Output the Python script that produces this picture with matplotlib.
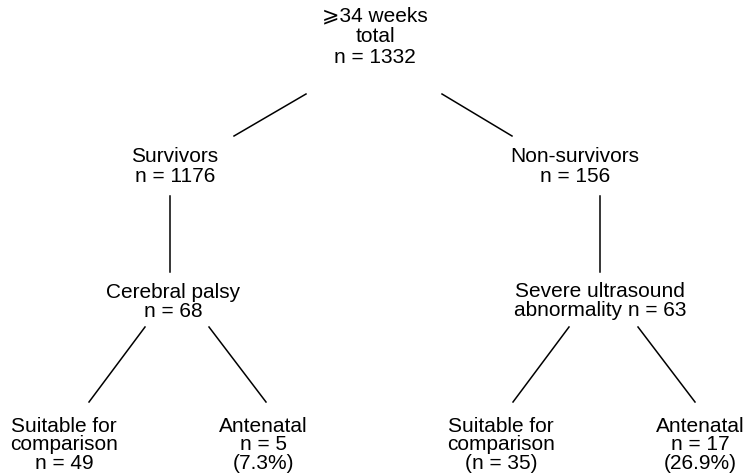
import matplotlib
matplotlib.use("Agg")
import matplotlib.pyplot as plt

# Datos del diagrama de flujo
etiquetas = [
    "\u2a7e34 weeks\ntotal",
    "Survivors",
    "Non-survivors",
    "Cerebral palsy",
    "Severe ultrasound\nabnormality",
    "Suitable for\ncomparison",
    "Antenatal",
    "Suitable for\ncomparison",
    "Antenatal",
]
conteos = [1332, 1176, 156, 68, 63, 49, 5, 35, 17]
porcentajes = [None, None, None, None, None, None, 7.3, None, 26.9]
padres = [None, 0, 0, 1, 2, 3, 3, 4, 4]

# Formato de cada nodo (cómo se escribe el n)
def texto_nodo(i):
    et, n, p = etiquetas[i], conteos[i], porcentajes[i]
    if i == 4:
        return et + " n = %d" % n
    if i == 7:
        return et + "\n(n = %d)" % n
    if p is not None:
        return et + "\nn = %d\n(%.1f%%)" % (n, p)
    return et + "\nn = %d" % n

# Posiciones (pixeles): centro x, linea base de la primera linea y separacion
pos_x = [375, 175, 575, 173, 600, 64, 263, 501, 700]
base_y = [21, 162, 162, 298, 297, 432, 432, 432, 432]
interlinea = [21, 20.5, 20.5, 19, 19, 18.5, 18.5, 18.5, 18.5]

# Segmentos de conexion (inicio, fin) en pixeles
conexiones = {
    1: ((306, 94), (234, 136)),
    2: ((442, 94), (512, 136)),
    3: ((170, 196), (170, 272)),
    4: ((600, 196), (600, 272)),
    5: ((145, 327), (89, 402)),
    6: ((209, 327), (266, 402)),
    7: ((569, 327), (513, 402)),
    8: ((638, 327), (695, 402)),
}

fig = plt.figure(figsize=(7.49, 4.74), dpi=100)
ax = fig.add_axes([0, 0, 1, 1])
ax.set_xlim(0, 749)
ax.set_ylim(474, 0)
ax.axis("off")

fuente = ["Liberation Sans", "DejaVu Sans"]

for i in range(len(etiquetas)):
    for k, linea in enumerate(texto_nodo(i).split("\n")):
        ax.text(pos_x[i], base_y[i] + k * interlinea[i], linea, ha="center",
                va="baseline", fontsize=15, family=fuente, color="black")

for hijo, (a, b) in conexiones.items():
    ax.plot([a[0], b[0]], [a[1], b[1]], color="black", lw=1.1)

fig.savefig("out.png", dpi=100)
